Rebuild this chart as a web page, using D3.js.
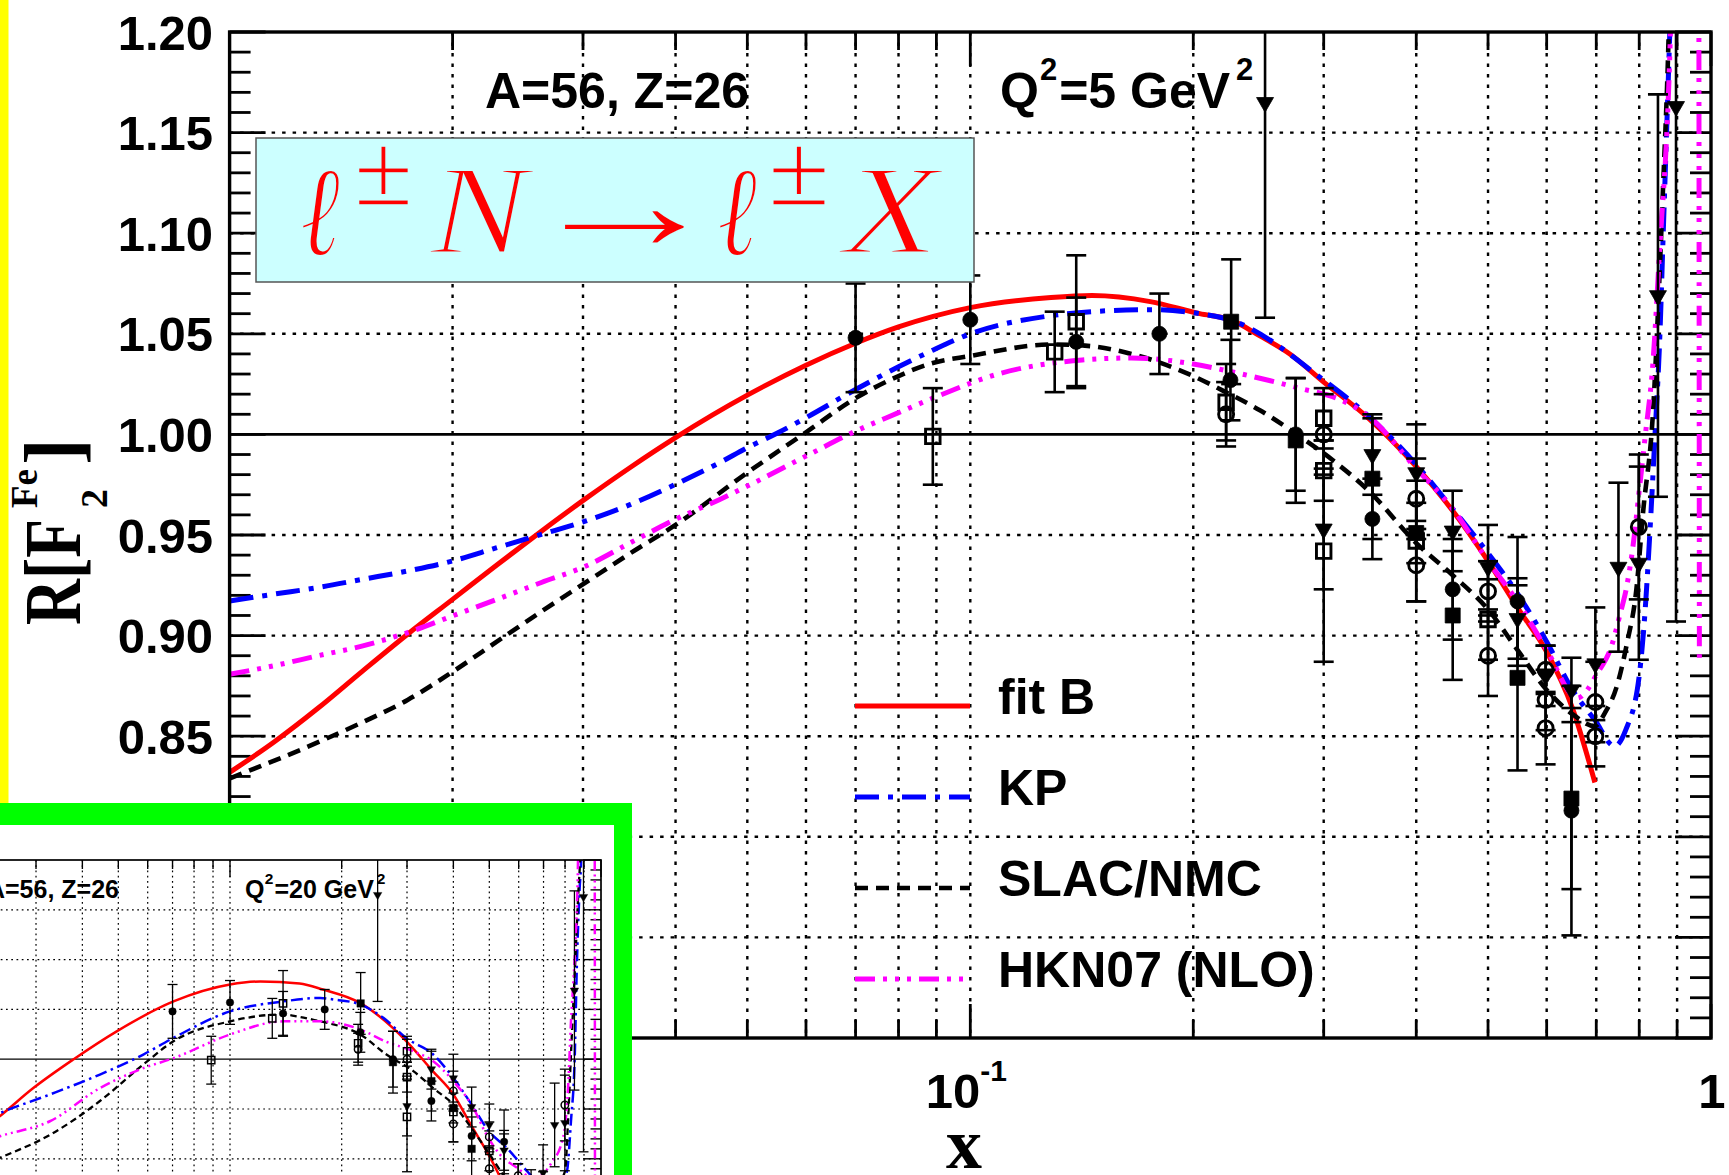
<!DOCTYPE html>
<html>
<head>
<meta charset="utf-8">
<title>R[F2 Fe] versus x</title>
<script src="https://cdn.jsdelivr.net/npm/d3@7"></script>
<style>
  html, body { margin: 0; padding: 0; background: #fff; }
  svg { display: block; }
</style>
</head>
<body>
<svg id="chart" width="1729" height="1175"></svg>
<script>
// ---------- axis ticks and labels ----------
const xMajorTicks = [0.01, 0.1, 1];
const xMinorTicks = [0.02, 0.03, 0.04, 0.05, 0.06, 0.07, 0.08, 0.09, 0.2, 0.3, 0.4, 0.5, 0.6, 0.7, 0.8, 0.9];
const xTickBase = ['10', '10', '1'];
const xTickExp = ['-2', '-1', ''];
const yMajorTicks = [0.70, 0.75, 0.80, 0.85, 0.90, 0.95, 1.00, 1.05, 1.10, 1.15, 1.20];
const yMinorTicks = d3.range(70, 121).map(i => i / 100);

// ---------- model curves, Q^2 = 5 GeV^2 ----------
const fitB_Q5 = [[0.01,0.832],[0.01147,0.847],[0.01317,0.864],[0.01513,0.8825],[0.01739,0.9007],[0.02,0.918],
  [0.02295,0.9351],[0.02636,0.9519],[0.03028,0.9682],[0.03478,0.9837],[0.04,0.9984],[0.05,1.0195],
  [0.06,1.0344],[0.07,1.0453],[0.08,1.0534],[0.1,1.0630],[0.1285,1.0680],[0.146,1.069],[0.175,1.066],[0.204,1.060],
  [0.2243,1.057],[0.246,1.049],[0.27,1.040],[0.3,1.026],[0.345,1.008],[0.4,0.984],[0.448,0.962],[0.5,0.937],
  [0.55,0.913],[0.6,0.892],[0.65,0.864],[0.697,0.827]];
const kp_Q5 = [[0.01,0.9172],[0.01147,0.9206],[0.01317,0.9239],[0.01513,0.928],[0.01739,0.9321],[0.02,0.9371],
  [0.02295,0.9437],[0.02636,0.9503],[0.03028,0.957],[0.03478,0.9652],[0.04,0.9752],[0.0459,0.986],[0.05,0.9934],
  [0.055,1.0008],[0.06,1.0083],[0.07,1.0223],[0.08,1.0336],[0.088,1.041],[0.1,1.050],[0.1285,1.059],[0.146,1.061],
  [0.175,1.062],[0.204,1.060],[0.224,1.057],[0.3,1.027],[0.345,1.009],[0.4,0.985],[0.448,0.963],[0.5,0.941],
  [0.55,0.920],[0.6,0.897],[0.65,0.873],[0.697,0.858],[0.741,0.845],[0.767,0.853],[0.80,0.880],[0.815,0.913],
  [0.826,0.948],[0.84,0.999],[0.853,1.049],[0.862,1.100],[0.871,1.150],[0.88,1.201],[0.89,1.26]];
const slac_Q5 = [[0.01,0.829],[0.01317,0.847],[0.01513,0.857],[0.01739,0.868],[0.02,0.882],[0.02295,0.897],
  [0.02636,0.912],[0.03028,0.9265],[0.03478,0.941],[0.04,0.955],[0.05,0.981],[0.06,1.001],[0.07,1.018],[0.08,1.029],
  [0.088,1.035],[0.1,1.039],[0.129,1.0447],[0.144,1.044],[0.165,1.040],[0.2,1.029],[0.2186,1.022],[0.246,1.012],
  [0.276,1.000],[0.309,0.987],[0.345,0.972],[0.4,0.946],[0.448,0.930],[0.5,0.913],[0.55,0.892],[0.6,0.873],
  [0.65,0.861],[0.697,0.855],[0.72,0.862],[0.745,0.874],[0.77,0.896],[0.793,0.923],[0.81,0.962],[0.835,1.011],
  [0.851,1.074],[0.862,1.125],[0.875,1.188],[0.885,1.26]];
const hkn_Q5 = [[0.01,0.8808],[0.01147,0.885],[0.01317,0.890],[0.01513,0.8949],[0.01739,0.9015],[0.02,0.9098],
  [0.02295,0.918],[0.02636,0.9264],[0.03028,0.9346],[0.03478,0.9462],[0.04,0.9578],[0.0459,0.9677],[0.05,0.9743],
  [0.06,0.9892],[0.07,1.0016],[0.08,1.0108],[0.089,1.018],[0.109,1.030],[0.1416,1.037],[0.165,1.038],[0.2,1.035],
  [0.226,1.031],[0.278,1.023],[0.317,1.017],[0.345,1.009],[0.4,0.983],[0.448,0.963],[0.5,0.937],[0.55,0.916],
  [0.6,0.893],[0.66,0.869],[0.703,0.8815],[0.735,0.8955],[0.753,0.910],[0.77,0.925],[0.785,0.945],[0.80,0.972],
  [0.815,0.999],[0.835,1.036],[0.851,1.087],[0.881,1.196],[0.895,1.30],[0.962,1.30],[0.9645,0.889]];

// ---------- model curves, Q^2 = 20 GeV^2 ----------
const fitB_Q20 = [[0.022,0.932],[0.024,0.943],[0.0295,0.971],[0.0379,1.000],[0.0495,1.028],[0.0704,1.058],[0.1,1.075],
  [0.1207,1.078],[0.154,1.076],[0.178,1.070],[0.224,1.0566],[0.299,1.018],[0.352,0.988],[0.40,0.9646],[0.448,0.9327],
  [0.498,0.904],[0.53,0.8845],[0.56,0.865]];
const kp_Q20 = [[0.022,0.940],[0.024,0.946],[0.0327,0.9646],[0.0446,0.9846],[0.0584,1.0047],[0.0704,1.0214],[0.1,1.048],
  [0.139,1.058],[0.175,1.0615],[0.19,1.060],[0.224,1.055],[0.259,1.0415],[0.299,1.021],[0.353,1.0047],[0.40,0.981],
  [0.448,0.9545],[0.498,0.928],[0.557,0.911],[0.632,0.8876],[0.70,0.870],[0.76,0.862],[0.81,0.888],[0.83,0.938],
  [0.85,1.005],[0.86,1.088],[0.876,1.172],[0.884,1.20],[0.89,1.26]];
const slac_Q20 = [[0.022,0.895],[0.024,0.901],[0.0327,0.924],[0.0446,0.958],[0.0584,0.9947],[0.0704,1.018],[0.1,1.038],
  [0.139,1.045],[0.154,1.0425],[0.175,1.038],[0.19,1.035],[0.224,1.025],[0.264,1.0047],[0.312,0.988],[0.353,0.971],
  [0.40,0.9545],[0.453,0.928],[0.502,0.904],[0.545,0.884],[0.62,0.862],[0.72,0.862],[0.80,0.8876],[0.815,0.938],
  [0.83,1.005],[0.85,1.088],[0.87,1.172],[0.878,1.20],[0.885,1.26]];
const hkn_Q20 = [[0.022,0.918],[0.024,0.9227],[0.0327,0.9377],[0.0446,0.971],[0.0584,0.991],[0.0704,1.001],[0.1,1.0248],
  [0.139,1.038],[0.175,1.038],[0.19,1.037],[0.224,1.030],[0.264,1.0175],[0.312,1.008],[0.353,0.998],[0.40,0.978],
  [0.453,0.951],[0.49,0.925],[0.535,0.904],[0.594,0.891],[0.66,0.880],[0.73,0.894],[0.79,0.921],[0.815,0.971],
  [0.83,1.038],[0.85,1.105],[0.866,1.189],[0.875,1.30],[0.961,1.30],[0.9635,0.80]];

// ---------- measured ratios (shared by both panels) ----------
const ptX   = [0.070,0.089,0.100,0.130,0.139,0.139,0.180,0.225,0.250,0.2245,0.2215,0.2215,0.275,0.275,
  0.30,0.30,0.30,0.30,0.30,0.349,0.349,0.349,0.40,0.40,0.40,0.40,0.40,0.448,0.448,0.448,
  0.50,0.50,0.50,0.50,0.548,0.548,0.548,0.598,0.598,0.598,0.598,0.648,0.648,0.648,
  0.698,0.698,0.698,0.75,0.799,0.799,0.848,0.897];
const ptR   = [1.048,0.999,1.057,1.041,1.056,1.046,1.050,1.056,1.165,1.027,1.016,1.010,1.000,0.997,
  1.008,1.000,0.982,0.953,0.942,0.990,0.978,0.958,0.981,0.968,0.951,0.947,0.935,0.952,0.923,0.910,
  0.934,0.922,0.908,0.890,0.917,0.9085,0.879,0.883,0.880,0.868,0.854,0.873,0.819,0.813,
  0.886,0.867,0.850,0.934,0.954,0.936,1.069,1.163];
const ptErr = [0.027,0.024,0.022,0.020,0.033,0.022,0.020,0.031,0.107,0.020,0.019,0.016,0.028,0.031,
  0.015,0.020,0.015,0.030,0.055,0.020,0.030,0.020,0.024,0.020,0.015,0.030,0.018,0.020,0.025,0.032,
  0.021,0.015,0.020,0.020,0.032,0.020,0.046,0.012,0.015,0.015,0.018,0.016,0.045,0.062,
  0.028,0.020,0.015,0.042,0.036,0.048,0.100,0.256];
const ptMarker = ['fc','os','fc','os','os','fc','fc','fs','ft','fc','os','oc','fc','fs',
  'os','oc','os','ft','os','ft','fs','fc','ft','oc','fs','os','oc','ft','fc','fs',
  'ft','oc','os','oc','fc','ft','fs','oc','ft','oc','oc','ft','fs','fc',
  'ft','oc','oc','ft','oc','ft','ft','ft'];

const legendLabels = ['fit B', 'KP', 'SLAC/NMC', 'HKN07 (NLO)'];

// ---------- styles ----------
const SANS = '"Liberation Sans", Arial, Helvetica, sans-serif';
const SERIF = '"Liberation Serif", "Times New Roman", Times, serif';
const lineStyles = [
  { color: '#ff0000', width: 5.0, dash: [] },
  { color: '#0000ff', width: 5.0, dash: [24, 9, 5, 9] },
  { color: '#000000', width: 4.6, dash: [13, 8] },
  { color: '#ff00ff', width: 5.0, dash: [20, 8, 4, 8, 4, 8, 4, 8] }
];
const markerShape = { fc: d3.symbolCircle, oc: d3.symbolCircle, fs: d3.symbolSquare, os: d3.symbolSquare, ft: d3.symbolTriangle };
const markerSize = { fc: 177, oc: 177, fs: 225, os: 210, ft: 125 };
const markerOpen = { fc: false, oc: true, fs: false, os: true, ft: false };

const svg = d3.select('#chart');
const defs = svg.append('defs');

function drawPanel(F, curves, q2text) {
  const s = F.s;
  const x = d3.scaleLog().domain([0.01, 1]).range([F.x0, F.x1]);
  const y = d3.scaleLinear().domain([0.7, 1.2]).range([F.y1, F.y0]);
  const fx = px => F.x0 + (px - 229.6) / 1481.4 * (F.x1 - F.x0);
  const fy = py => F.y0 + (py - 32) / 1006 * (F.y1 - F.y0);
  const g = F.parent.append('g');
  const clipId = 'plot-' + F.id;
  defs.append('clipPath').attr('id', clipId).append('rect')
    .attr('x', F.x0).attr('y', F.y0).attr('width', F.x1 - F.x0).attr('height', F.y1 - F.y0);

  // dotted grid
  const grid = g.append('g').attr('stroke', '#000').attr('stroke-width', 2.4 * s)
    .attr('stroke-dasharray', `${3.5 * s} ${7 * s}`);
  grid.selectAll('line.gx').data(xMinorTicks.concat([0.1])).join('line').attr('class', 'gx')
    .attr('x1', d => x(d)).attr('x2', d => x(d)).attr('y1', F.y0).attr('y2', F.y1);
  grid.selectAll('line.gy').data(yMajorTicks.filter(v => v > 0.701 && v < 1.199 && Math.abs(v - 1) > 1e-6))
    .join('line').attr('class', 'gy')
    .attr('x1', F.x0).attr('x2', F.x1).attr('y1', d => y(d)).attr('y2', d => y(d));

  // unity line
  g.append('line').attr('x1', F.x0).attr('x2', F.x1).attr('y1', y(1)).attr('y2', y(1))
    .attr('stroke', '#000').attr('stroke-width', 2.6 * s);

  // tick marks on all four sides
  const tk = g.append('g').attr('stroke', '#000').attr('stroke-width', 2.8 * s);
  const xt = xMinorTicks.map(v => ({ v, L: 18 })).concat(xMajorTicks.map(v => ({ v, L: 34 })));
  tk.selectAll('line.xb').data(xt).join('line').attr('class', 'xb')
    .attr('x1', d => x(d.v)).attr('x2', d => x(d.v)).attr('y1', F.y1).attr('y2', d => F.y1 - d.L * s);
  tk.selectAll('line.xt').data(xt).join('line').attr('class', 'xt')
    .attr('x1', d => x(d.v)).attr('x2', d => x(d.v)).attr('y1', F.y0).attr('y2', d => F.y0 + d.L * s);
  const yt = yMinorTicks.map(v => ({ v, L: (Math.round(v * 100) % 5 === 0) ? 36 : 21 }));
  tk.selectAll('line.yl').data(yt).join('line').attr('class', 'yl')
    .attr('x1', F.x0).attr('x2', d => F.x0 + d.L * s).attr('y1', d => y(d.v)).attr('y2', d => y(d.v));
  tk.selectAll('line.yr').data(yt).join('line').attr('class', 'yr')
    .attr('x1', F.x1).attr('x2', d => F.x1 - d.L * s).attr('y1', d => y(d.v)).attr('y2', d => y(d.v));

  // model curves
  const cg = g.append('g').attr('clip-path', `url(#${clipId})`);
  const line = d3.line().x(d => x(d[0])).y(d => y(d[1])).curve(d3.curveMonotoneX);
  curves.forEach((c, i) => {
    const st = lineStyles[i];
    cg.append('path').attr('d', line(c)).attr('fill', 'none')
      .attr('stroke', st.color).attr('stroke-width', st.width * s)
      .attr('stroke-dasharray', st.dash.length ? st.dash.map(v => v * s).join(' ') : null);
  });

  // data points with error bars
  const pts = ptX.map((xv, i) => ({ x: xv, r: ptR[i], e: ptErr[i], m: ptMarker[i] }));
  const pg = g.append('g').attr('clip-path', `url(#${clipId})`);
  const eb = pg.append('g').attr('stroke', '#000').attr('stroke-width', 2.6 * s);
  eb.selectAll('line.bar').data(pts).join('line').attr('class', 'bar')
    .attr('x1', d => x(d.x)).attr('x2', d => x(d.x)).attr('y1', d => y(d.r - d.e)).attr('y2', d => y(d.r + d.e));
  eb.selectAll('line.cap1').data(pts).join('line').attr('class', 'cap1')
    .attr('x1', d => x(d.x) - 10 * s).attr('x2', d => x(d.x) + 10 * s)
    .attr('y1', d => y(d.r + d.e)).attr('y2', d => y(d.r + d.e));
  eb.selectAll('line.cap2').data(pts).join('line').attr('class', 'cap2')
    .attr('x1', d => x(d.x) - 10 * s).attr('x2', d => x(d.x) + 10 * s)
    .attr('y1', d => y(d.r - d.e)).attr('y2', d => y(d.r - d.e));
  pg.selectAll('path.mk').data(pts).join('path').attr('class', 'mk')
    .attr('d', d => d3.symbol().type(markerShape[d.m]).size(markerSize[d.m] * s * s)())
    .attr('transform', d => `translate(${x(d.x)},${y(d.r)})` + (d.m === 'ft' ? ' rotate(180)' : ''))
    .attr('fill', d => markerOpen[d.m] ? 'none' : '#000')
    .attr('stroke', '#000').attr('stroke-width', d => (markerOpen[d.m] ? 2.9 : 0.8) * s);

  // frame
  g.append('rect').attr('x', F.x0).attr('y', F.y0).attr('width', F.x1 - F.x0).attr('height', F.y1 - F.y0)
    .attr('fill', 'none').attr('stroke', '#000').attr('stroke-width', 3.4 * s);

  // nucleus and scale labels
  g.append('text').attr('x', fx(485)).attr('y', fy(108)).attr('font-family', SANS).attr('font-weight', 'bold')
    .attr('font-size', 50 * s).text('A=56, Z=26');
  const q = g.append('text').attr('x', fx(1000)).attr('y', fy(108)).attr('font-family', SANS)
    .attr('font-weight', 'bold').attr('font-size', 50 * s);
  q.append('tspan').text('Q');
  q.append('tspan').attr('dy', -28 * s).attr('dx', 1 * s).attr('font-size', 31 * s).text('2');
  q.append('tspan').attr('dy', 28 * s).attr('dx', 2 * s).text(q2text);
  q.append('tspan').attr('dy', -28 * s).attr('dx', 6 * s).attr('font-size', 31 * s).text('2');
  return { x, y, g };
}

// ---------- main panel ----------
const mainRoot = svg.append('g');
const M = drawPanel({ parent: mainRoot, x0: 229.6, x1: 1711, y0: 32, y1: 1038, s: 1, id: 'main' },
  [fitB_Q5, kp_Q5, slac_Q5, hkn_Q5], '=5 GeV');

// y tick labels
mainRoot.append('g').attr('font-family', SANS).attr('font-weight', 'bold').attr('font-size', 49)
  .attr('text-anchor', 'end')
  .selectAll('text').data(yMajorTicks).join('text')
  .attr('x', 213).attr('y', d => M.y(d) + 17.5).text(d => d.toFixed(2));

// x tick labels
const xl = mainRoot.append('g').attr('font-family', SANS).attr('font-weight', 'bold').attr('font-size', 49)
  .attr('text-anchor', 'middle');
xMajorTicks.forEach((v, i) => {
  const t = xl.append('text').attr('x', M.x(v) + (xTickExp[i] ? -4 : 1)).attr('y', 1108);
  t.append('tspan').text(xTickBase[i]);
  if (xTickExp[i]) t.append('tspan').attr('dy', -27).attr('font-size', 30).text(xTickExp[i]);
});

// axis titles
mainRoot.append('text').attr('x', 964).attr('y', 1168).attr('text-anchor', 'middle')
  .attr('font-family', SERIF).attr('font-weight', 'bold').attr('font-size', 72).text('x');
const yt = mainRoot.append('g').attr('transform', 'translate(80,625) rotate(-90)')
  .attr('font-family', SERIF).attr('font-weight', 'bold');
yt.append('text').attr('x', 0).attr('y', 0).attr('font-size', 80)
  .attr('textLength', 106).attr('lengthAdjust', 'spacingAndGlyphs').text('R[F');
yt.append('text').attr('x', 117).attr('y', -43).attr('font-size', 37).text('Fe');
yt.append('text').attr('x', 117).attr('y', 27).attr('font-size', 38).text('2');
yt.append('text').attr('x', 160).attr('y', 0).attr('font-size', 80).text(']');

// process box
const box = mainRoot.append('g');
box.append('rect').attr('x', 256).attr('y', 138).attr('width', 718).attr('height', 144)
  .attr('fill', '#ccffff').attr('stroke', '#555').attr('stroke-width', 1.5);
const formula = [
  { t: '\u2113', x: 300, w: 40, fs: 128, b: 255, it: true, thin: 2.5 },
  { t: '\u00b1', x: 354, w: 59, fs: 104, b: 205, it: false, thin: 1.5 },
  { t: 'N', x: 430, w: 98, fs: 128, b: 253, it: true, thin: 3 },
  { t: '\u2192', x: 522, w: 204, fs: 140, b: 250, it: false, thin: 1.5 },
  { t: '\u2113', x: 717, w: 40, fs: 128, b: 255, it: true, thin: 2.5 },
  { t: '\u00b1', x: 768, w: 62, fs: 104, b: 205, it: false, thin: 1.5 },
  { t: 'X', x: 843, w: 96, fs: 128, b: 253, it: true, thin: 3 }
];
// the background-coloured stroke gives the glyphs a lighter, math-italic weight
box.selectAll('text').data(formula).join('text')
  .attr('x', d => d.x).attr('y', d => d.b).attr('font-size', d => d.fs)
  .attr('font-family', SERIF).attr('font-style', d => d.it ? 'italic' : 'normal')
  .attr('textLength', d => d.w).attr('lengthAdjust', 'spacingAndGlyphs')
  .attr('fill', '#ff0000').attr('stroke', '#ccffff').attr('stroke-width', d => d.thin)
  .text(d => d.t);

// legend
const lg = mainRoot.append('g');
const legendY = [706, 797, 888, 979];
legendLabels.forEach((lab, i) => {
  const st = lineStyles[i];
  lg.append('line').attr('x1', 855).attr('x2', 970).attr('y1', legendY[i]).attr('y2', legendY[i])
    .attr('stroke', st.color).attr('stroke-width', st.width)
    .attr('stroke-dasharray', st.dash.length ? st.dash.join(' ') : null);
  lg.append('text').attr('x', 998).attr('y', legendY[i] + 8).attr('font-family', SANS)
    .attr('font-weight', 'bold').attr('font-size', 50).text(lab);
});

// left edge stripe
svg.append('rect').attr('x', 0).attr('y', 0).attr('width', 8.5).attr('height', 803).attr('fill', '#ffff00');

// ---------- inset panel, Q^2 = 20 GeV^2 ----------
svg.append('rect').attr('x', 0).attr('y', 803).attr('width', 632).attr('height', 372).attr('fill', '#00ff00');
svg.append('rect').attr('x', 0).attr('y', 825).attr('width', 614).attr('height', 350).attr('fill', '#ffffff');
defs.append('clipPath').attr('id', 'inset-area').append('rect')
  .attr('x', 0).attr('y', 825).attr('width', 614).attr('height', 350);
const insetRoot = svg.append('g').attr('clip-path', 'url(#inset-area)');
drawPanel({ parent: insetRoot, x0: -141, x1: 601, y0: 860, y1: 1358, s: 0.5, id: 'inset' },
  [fitB_Q20, kp_Q20, slac_Q20, hkn_Q20], '=20 GeV');
</script>
</body>
</html>
